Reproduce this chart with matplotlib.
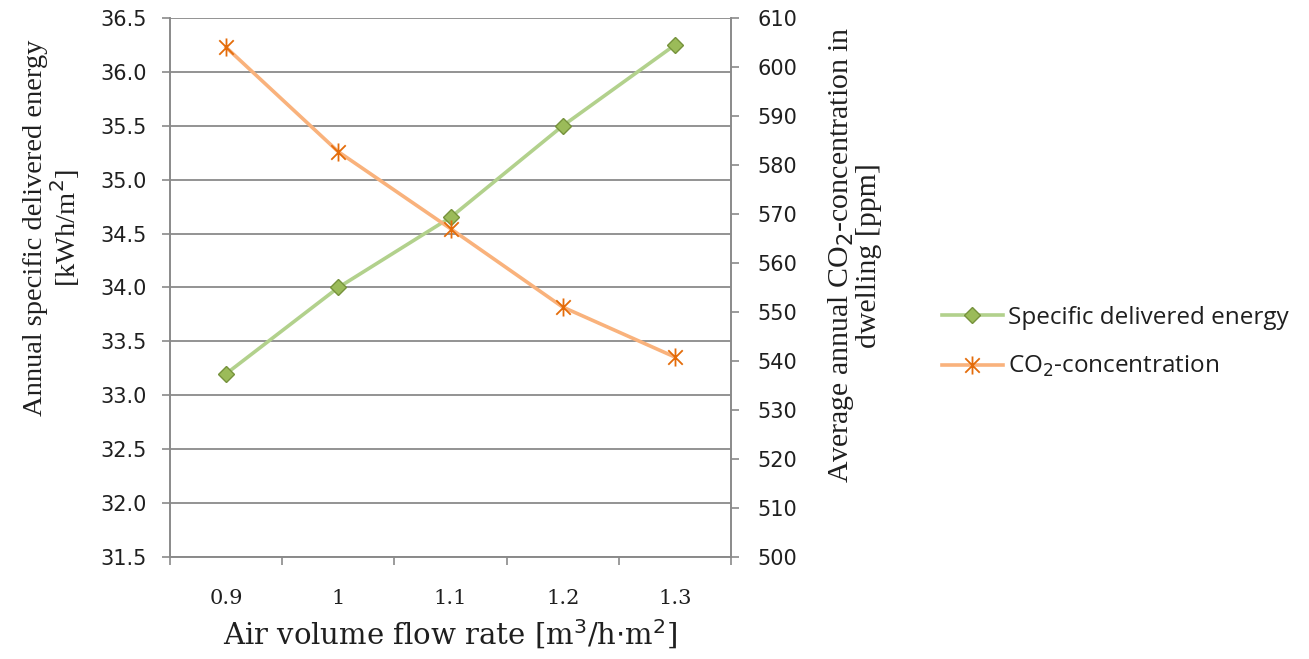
import matplotlib
matplotlib.use("Agg")
import matplotlib.pyplot as plt
from matplotlib.lines import Line2D
from matplotlib.path import Path

# Data
flow_labels = ["0.9", "1", "1.1", "1.2", "1.3"]
energy = [33.2, 34.0, 34.65, 35.5, 36.25]          # kWh/m2
co2 = [604, 582.7, 567, 551, 540.8]                # ppm

GRID = "#8a8a8a"
GREEN_LINE = "#b2d18c"
GREEN_FACE = "#9bbb59"
GREEN_EDGE = "#76923c"
ORANGE_LINE = "#f9b27c"
ORANGE_MARK = "#e46c0a"
TEXT = "#1f1f1f"

# Star marker: an X crossed by a vertical stroke
STAR = Path([(-1, -1), (1, 1), (-1, 1), (1, -1), (0, -1.25), (0, 1.25)],
            [Path.MOVETO, Path.LINETO, Path.MOVETO, Path.LINETO,
             Path.MOVETO, Path.LINETO])

fig = plt.figure(figsize=(13.09, 6.59), dpi=100)
ax = fig.add_axes([0.1299, 0.1548, 0.4286, 0.8179])
ax2 = ax.twinx()

x = list(range(len(flow_labels)))

green_style = dict(color=GREEN_LINE, lw=2.6, marker="D", ms=8,
                   mfc=GREEN_FACE, mec=GREEN_EDGE, mew=1.0)
orange_style = dict(color=ORANGE_LINE, lw=2.6, marker=STAR, ms=13,
                    mec=ORANGE_MARK, mfc="none", mew=1.3)

ax.plot(x, energy, zorder=3, **green_style)
ax2.plot(x, co2, zorder=3, **orange_style)

# Left axis
ax.set_ylim(31.5, 36.5)
ax.set_yticks([31.5 + 0.5 * i for i in range(11)])
ax.set_yticklabels([f"{31.5 + 0.5 * i:.1f}" for i in range(11)])
ax.set_xlim(-0.5, len(flow_labels) - 0.5)
ax.set_xticks(x)
ax.set_xticklabels(flow_labels, family="DejaVu Serif")
ax.set_xticks([i - 0.5 for i in range(len(flow_labels) + 1)], minor=True)
ax.tick_params(axis="x", which="major", length=0, pad=23, labelsize=15, labelcolor=TEXT)
ax.tick_params(axis="x", which="minor", length=6, color=GRID, width=1.2)
ax.tick_params(axis="y", length=6, color=GRID, width=1.2, labelsize=15,
               labelcolor=TEXT, pad=11)

ax.yaxis.grid(True, color=GRID, lw=1.3)
ax.set_axisbelow(True)

# Right axis
ax2.set_ylim(500, 610)
ax2.set_yticks(list(range(500, 611, 10)))
ax2.tick_params(axis="y", length=6, color=GRID, width=1.2, labelsize=15,
                labelcolor=TEXT, pad=13)

for a in (ax, ax2):
    a.spines["top"].set_visible(False)
    for s in ("left", "right", "bottom"):
        a.spines[s].set_color(GRID)
        a.spines[s].set_linewidth(1.2)

ax.set_xlabel("Air volume flow rate [m$^3$/h$\\cdot$m$^2$]", fontsize=21,
              family="DejaVu Serif", color=TEXT)
ax.xaxis.set_label_coords(0.5, -0.113)
ax.set_ylabel("Annual specific delivered energy\n[kWh/m$^2$]", fontsize=20.5,
              family="Liberation Serif", color=TEXT, linespacing=1.0)
ax.yaxis.set_label_coords(-0.157, 0.61)
ax2.set_ylabel("Average annual CO$_2$-concentration in\ndwelling [ppm]", fontsize=21.5,
               family="Liberation Serif", color=TEXT, linespacing=1.0)
ax2.yaxis.set_label_coords(1.169, 0.56)

handles = [Line2D([], [], **green_style), Line2D([], [], **orange_style)]
fig.legend(handles, ["Specific delivered energy", "CO$_2$-concentration"],
           loc="center left", bbox_to_anchor=(0.703, 0.48), frameon=False,
           prop={"family": "Open Sans", "size": 17.5}, labelspacing=1.0,
           handlelength=2.5, handletextpad=0.2, labelcolor=TEXT)

fig.savefig("out.png", dpi=100)
